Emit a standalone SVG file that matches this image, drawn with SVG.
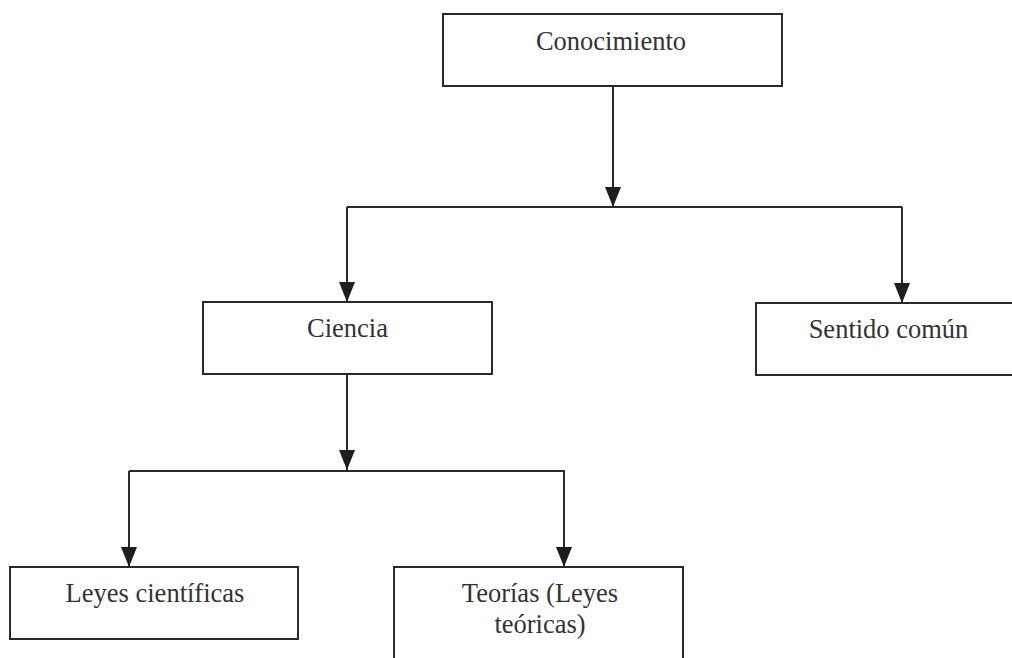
<svg xmlns="http://www.w3.org/2000/svg" width="1012" height="658" viewBox="0 0 1012 658">
  <style>
    .box { fill: #ffffff; stroke: #2a2a2a; stroke-width: 2; }
    .lbl { font-family: "Liberation Serif", "Times New Roman", serif; font-size: 26.5px; fill: #333333; text-anchor: middle; }
    .wire { fill: none; stroke: #2a2a2a; stroke-width: 2; }
  </style>
  <defs>
    <!-- arrowhead drawn along +x, tip at the line end -->
    <marker id="arrow" viewBox="0 0 20 16" refX="20" refY="8" markerWidth="20" markerHeight="16" markerUnits="userSpaceOnUse" orient="auto">
      <path d="M0,0 L20,8 L0,16 Z" fill="#1e1e1e"/>
    </marker>
  </defs>
  <rect width="1012" height="658" fill="#ffffff"/>

  <!-- connectors -->
  <g id="connectors">
    <line class="wire" x1="613" y1="86" x2="613" y2="207" marker-end="url(#arrow)"/>
    <polyline class="wire" points="347,207 902,207"/>
    <line class="wire" x1="347" y1="207" x2="347" y2="302" marker-end="url(#arrow)"/>
    <line class="wire" x1="902" y1="207" x2="902" y2="303" marker-end="url(#arrow)"/>
    <line class="wire" x1="347" y1="374" x2="347" y2="470" marker-end="url(#arrow)"/>
    <polyline class="wire" points="129,471 565,471"/>
    <line class="wire" x1="129" y1="471" x2="129" y2="567" marker-end="url(#arrow)"/>
    <line class="wire" x1="564" y1="471" x2="564" y2="567" marker-end="url(#arrow)"/>
  </g>

  <g id="conocimiento">
    <rect class="box" x="443" y="14" width="339" height="72"/>
    <text class="lbl" x="611" y="50">Conocimiento</text>
  </g>

  <g id="ciencia">
    <rect class="box" x="203" y="302" width="289" height="72"/>
    <text class="lbl" x="347.5" y="337">Ciencia</text>
  </g>

  <g id="sentido-comun">
    <rect class="box" x="756" y="303" width="270" height="72"/>
    <text class="lbl" x="888.5" y="338">Sentido común</text>
  </g>

  <g id="leyes-cientificas">
    <rect class="box" x="10" y="567" width="288" height="72"/>
    <text class="lbl" x="155" y="602">Leyes científicas</text>
  </g>

  <g id="teorias">
    <rect class="box" x="394" y="567" width="289" height="110"/>
    <text class="lbl" x="540" y="602">Teorías (Leyes</text>
    <text class="lbl" x="540" y="633">teóricas)</text>
  </g>
</svg>
